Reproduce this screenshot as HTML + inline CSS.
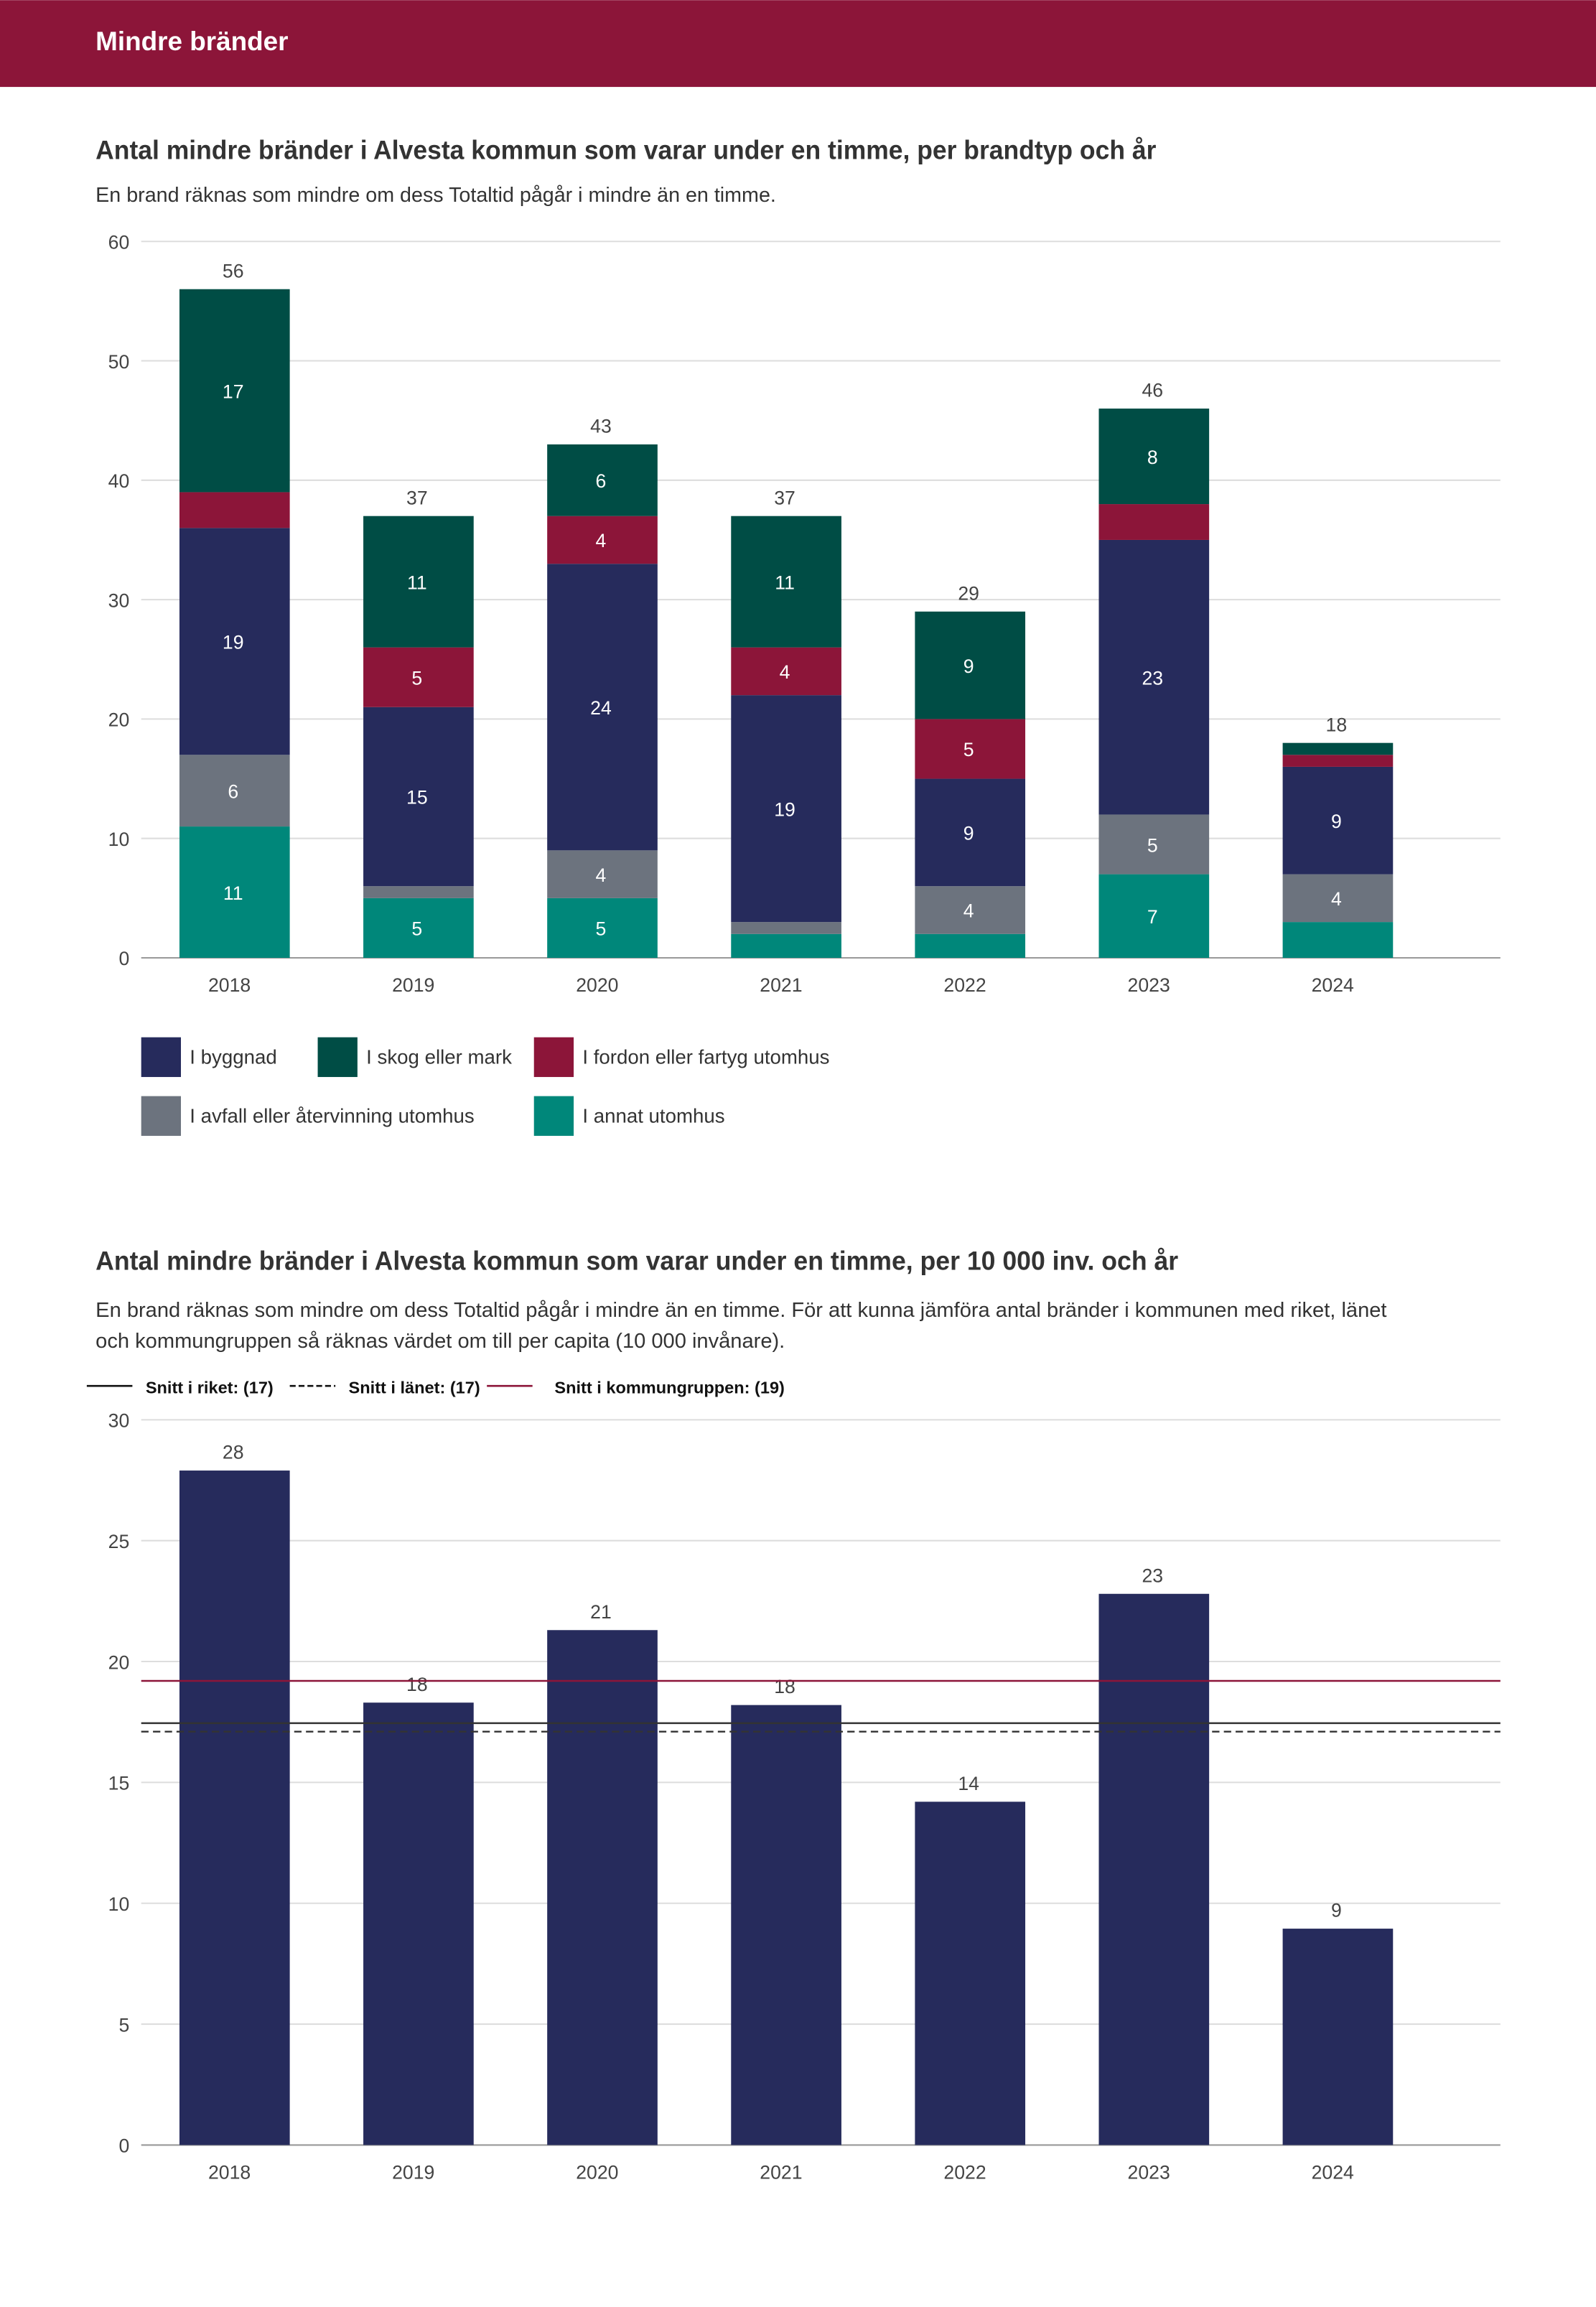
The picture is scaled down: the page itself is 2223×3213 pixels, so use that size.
<!DOCTYPE html>
<html><head><meta charset="utf-8">
<style>
html,body{margin:0;padding:0;background:#fff;}
svg{display:block;font-family:"Liberation Sans",sans-serif;}
</style></head>
<body>
<svg id="s" width="2223" height="3213" viewBox="0 0 1085 1568" xmlns="http://www.w3.org/2000/svg">
<rect x="0" y="0" width="1085" height="59" fill="#8c1539"/>
<text x="65" y="34" font-size="18" font-weight="bold" fill="#fff">Mindre bränder</text>
<text x="65" y="108" font-size="18" font-weight="bold" fill="#333" textLength="721" lengthAdjust="spacingAndGlyphs">Antal mindre bränder i Alvesta kommun som varar under en timme, per brandtyp och år</text>
<text x="65" y="137" font-size="14" fill="#333">En brand räknas som mindre om dess Totaltid pågår i mindre än en timme.</text>
<g id="c1"></g>
<g id="lg1"></g>
<text x="65" y="863" font-size="18" font-weight="bold" fill="#333" textLength="736" lengthAdjust="spacingAndGlyphs">Antal mindre bränder i Alvesta kommun som varar under en timme, per 10 000 inv. och år</text>
<text x="65" y="895" font-size="14.2" fill="#333">En brand räknas som mindre om dess Totaltid pågår i mindre än en timme. För att kunna jämföra antal bränder i kommunen med riket, länet</text>
<text x="65" y="916" font-size="14.2" fill="#333">och kommungruppen så räknas värdet om till per capita (10 000 invånare).</text>
<g>
<line x1="59" y1="942" x2="90" y2="942" stroke="#111" stroke-width="1.3"/>
<text x="99" y="947" font-size="11.5" font-weight="bold" fill="#111">Snitt i riket: (17)</text>
<line x1="197" y1="942" x2="228" y2="942" stroke="#111" stroke-width="1.3" stroke-dasharray="4,2"/>
<text x="237" y="947" font-size="11.5" font-weight="bold" fill="#111">Snitt i länet: (17)</text>
<line x1="331" y1="942" x2="362" y2="942" stroke="#8c1539" stroke-width="1.3"/>
<text x="377" y="947" font-size="11.5" font-weight="bold" fill="#111">Snitt i kommungruppen: (19)</text>
</g>
<g id="c2"></g>
</svg>
<script>
const years = ["2018","2019","2020","2021","2022","2023","2024"];
const annat = [11,5,5,2,2,7,3];
const avfall = [6,1,4,1,4,5,4];
const byggnad = [19,15,24,19,9,23,9];
const fordon = [3,5,4,4,5,3,1];
const skog = [17,11,6,11,9,8,1];
const totals = [56,37,43,37,29,46,18];
const ticks1 = [0,10,20,30,40,50,60];
const perCapita = [27.9,18.3,21.3,18.2,14.2,22.8,8.95];
const perCapitaLabels = ["28","18","21","18","14","23","9"];
const ticks2 = [0,5,10,15,20,25,30];
const avgRiket = 17.45, avgLanet = 17.1, avgGrupp = 19.2;

const NS="http://www.w3.org/2000/svg";
function mk(p,tag,attrs,txt){const e=document.createElementNS(NS,tag);for(const k in attrs)e.setAttribute(k,attrs[k]);if(txt!==undefined)e.textContent=txt;p.appendChild(e);return e;}
const bx=i=>159.5+i*125, BW=75, X0=96, X1=1020;
const lx=i=>156+i*125;

// chart 1
const c1=document.getElementById('c1');
const y1=v=>651-v*(487/60);
ticks1.forEach(t=>{
  const l=mk(c1,'line',{x1:X0,x2:X1,y1:y1(t),y2:y1(t),stroke:t===0?'#999':'#ddd','stroke-width':1});
  
  
  const tx=mk(c1,'text',{x:88,y:y1(t)+5,'font-size':13,fill:'#444','text-anchor':'end'},t);
  
  
});
const series=[[annat,'#00877a','annat'],[avfall,'#6c737e','avfall'],[byggnad,'#262b5c','byggnad'],[fordon,'#8c1539','fordon'],[skog,'#004d45','skog']];
years.forEach((yr,i)=>{
  let base=0;
  series.forEach(([arr,col,nm])=>{
    const v=arr[i];
    const r=mk(c1,'rect',{x:bx(i)-BW/2,y:y1(base+v),width:BW,height:y1(base)-y1(base+v),fill:col});
    
    
    if(v>=4){
      const t=mk(c1,'text',{x:bx(i)-1,y:(y1(base)+y1(base+v))/2+5,'font-size':13,fill:'#fff','text-anchor':'middle'},v);
      
      
    }
    base+=v;
  });
  const tt=mk(c1,'text',{x:bx(i)-1,y:y1(totals[i])-8,'font-size':13,fill:'#444','text-anchor':'middle'},totals[i]);
  
  
  const xl=mk(c1,'text',{x:lx(i),y:674,'font-size':13,fill:'#444','text-anchor':'middle'},yr);
  
  
});
// legend 1
const lg=document.getElementById('lg1');
[[96,705,'#262b5c','I byggnad'],[216,705,'#004d45','I skog eller mark'],[363,705,'#8c1539','I fordon eller fartyg utomhus'],[96,745,'#6c737e','I avfall eller återvinning utomhus'],[363,745,'#00877a','I annat utomhus']].forEach(([x,y,c,t])=>{
  const r=mk(lg,'rect',{x:x,y:y,width:27,height:27,fill:c});
  
  
  const tx=mk(lg,'text',{x:x+33,y:y+18,'font-size':13.5,fill:'#333'},t);
  
  
});

// chart 2
const c2=document.getElementById('c2');
const y2=v=>1458-v*(493/30);
ticks2.forEach(t=>{
  const l=mk(c2,'line',{x1:X0,x2:X1,y1:y2(t),y2:y2(t),stroke:t===0?'#999':'#ddd','stroke-width':1});
  
  
  const tx=mk(c2,'text',{x:88,y:y2(t)+5,'font-size':13,fill:'#444','text-anchor':'end'},t);
  
  
});
years.forEach((yr,i)=>{
  const r=mk(c2,'rect',{x:bx(i)-BW/2,y:y2(perCapita[i]),width:BW,height:y2(0)-y2(perCapita[i]),fill:'#262b5c'});
  
  
  const t=mk(c2,'text',{x:bx(i)-1,y:y2(perCapita[i])-8,'font-size':13,fill:'#444','text-anchor':'middle'},perCapitaLabels[i]);
  
  
  const xl=mk(c2,'text',{x:lx(i),y:1481,'font-size':13,fill:'#444','text-anchor':'middle'},yr);
  
  
});
const lr=mk(c2,'line',{x1:X0,x2:X1,y1:y2(avgRiket),y2:y2(avgRiket),stroke:'#333','stroke-width':1.2});


const ll=mk(c2,'line',{x1:X0,x2:X1,y1:y2(avgLanet),y2:y2(avgLanet),stroke:'#333','stroke-width':1.2,'stroke-dasharray':'5,3'});


const lk=mk(c2,'line',{x1:X0,x2:X1,y1:y2(avgGrupp),y2:y2(avgGrupp),stroke:'#8c1539','stroke-width':1.2});


</script>
</body></html>
